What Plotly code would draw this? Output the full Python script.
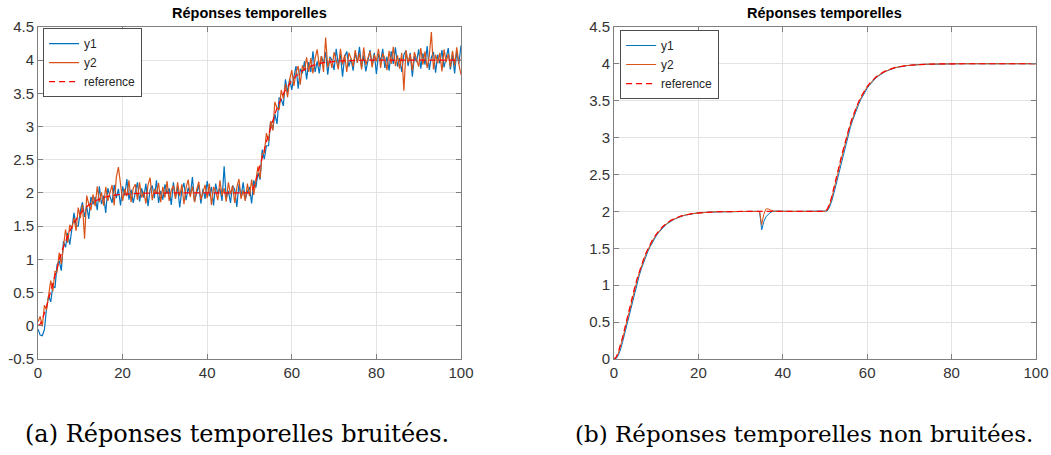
import numpy as np
import plotly.graph_objects as go

# ---------------- data ----------------
time_s = np.linspace(0, 100, 201)  # sampling grid, 0.5 s

# reference trajectory (same on both panels)
reference = [
    0.000, 0.025, 0.089, 0.180, 0.289, 0.406, 0.528, 0.651, 0.770, 0.884,
    0.993, 1.094, 1.188, 1.274, 1.353, 1.425, 1.490, 1.549, 1.602, 1.649,
    1.691, 1.728, 1.761, 1.791, 1.817, 1.840, 1.860, 1.878, 1.893, 1.907,
    1.919, 1.930, 1.939, 1.947, 1.954, 1.960, 1.965, 1.970, 1.974, 1.977,
    1.980, 1.983, 1.985, 1.987, 1.989, 1.991, 1.992, 1.993, 1.994, 1.995,
    1.996, 1.996, 1.997, 1.997, 1.998, 1.998, 1.998, 1.999, 1.999, 1.999,
    2.000,
    2.000, 2.000, 2.000, 2.000, 2.000, 2.000, 2.000, 2.000, 2.000, 2.000,
    2.000, 2.000, 2.000, 2.000, 2.000, 2.000, 2.000, 2.000, 2.000, 2.000,
    2.000, 2.000, 2.000, 2.000, 2.000, 2.000, 2.000, 2.000, 2.000, 2.000,
    2.000, 2.000, 2.000, 2.000, 2.000, 2.000, 2.000, 2.000, 2.000, 2.000,
    2.025, 2.089, 2.180, 2.289, 2.406, 2.528, 2.651, 2.770, 2.884, 2.993,
    3.094, 3.188, 3.274, 3.353, 3.425, 3.490, 3.549, 3.602, 3.649, 3.691,
    3.728, 3.761, 3.791, 3.817, 3.840, 3.860, 3.878, 3.893, 3.907, 3.919,
    3.930, 3.939, 3.947, 3.954, 3.960, 3.965, 3.970, 3.974, 3.977, 3.980,
    3.983, 3.985, 3.987, 3.989, 3.991, 3.992, 3.993, 3.994, 3.995, 3.996,
    3.996, 3.997, 3.997, 3.998, 3.998, 3.998, 3.999, 3.999, 3.999, 4.000,
    4.000, 4.000, 4.000, 4.000, 4.000, 4.000, 4.000, 4.000, 4.000, 4.000,
    4.000, 4.000, 4.000, 4.000, 4.000, 4.000, 4.000, 4.000, 4.000, 4.000,
    4.000, 4.000, 4.000, 4.000, 4.000, 4.000, 4.000, 4.000, 4.000, 4.000,
    4.000, 4.000, 4.000, 4.000, 4.000, 4.000, 4.000, 4.000, 4.000, 4.000,
]

# (a) noisy responses
y1_noisy = [
    -0.05, -0.14, -0.15, -0.06, 0.26, 0.45, 0.36, 0.60, 0.57, 0.92,
    0.98, 0.83, 1.27, 1.18, 1.40, 1.22, 1.46, 1.70, 1.50, 1.50,
    1.73, 1.86, 1.64, 1.80, 1.61, 1.94, 1.83, 1.94, 1.74, 2.10,
    1.83, 1.96, 1.70, 2.07, 1.95, 1.85, 2.12, 1.92, 2.06, 1.81,
    2.10, 1.96, 2.21, 1.90, 2.05, 1.85, 2.01, 2.16, 1.87, 2.07,
    1.93, 2.14, 1.80, 2.05, 2.11, 1.92, 2.19, 1.85, 2.03, 1.90,
    2.13, 1.99, 2.07, 1.82, 2.16, 1.93, 2.10, 1.78, 2.04, 2.15,
    1.89, 2.08, 1.96, 2.24, 1.87, 2.01, 2.12, 1.84, 2.06, 1.91,
    2.18, 1.95, 2.09, 1.81, 2.14, 1.98, 2.07, 1.88, 2.40, 1.92,
    2.03, 1.85, 2.11, 2.05, 1.79, 2.13, 1.94, 2.16, 1.90, 2.02,
    2.09, 1.84, 2.19, 2.08, 2.30, 2.20, 2.65, 2.51, 2.71, 2.71,
    3.08, 2.95, 3.19, 3.04, 3.43, 3.41, 3.31, 3.71, 3.51, 3.72,
    3.55, 3.75, 3.91, 3.57, 3.87, 3.80, 3.98, 3.71, 3.97, 3.82,
    4.13, 3.82, 3.98, 3.80, 4.06, 3.95, 4.12, 3.78, 4.05, 4.00,
    3.85, 4.17, 3.92, 4.09, 3.75, 4.05, 4.13, 3.90, 4.02, 3.84,
    4.11, 3.96, 4.20, 3.89, 4.07, 3.83, 4.01, 4.15, 3.92, 4.11,
    3.79, 4.09, 3.98, 4.17, 3.88, 4.05, 3.84, 4.13, 3.94, 4.19,
    3.90, 4.03, 3.82, 4.08, 4.14, 3.91, 4.11, 3.75, 4.06, 3.97,
    4.16, 3.87, 4.10, 3.93, 4.21, 3.85, 4.04, 4.12, 3.81, 4.08,
    3.95, 4.15, 3.89, 4.02, 4.18, 3.86, 4.09, 3.80, 4.13, 3.94,
    4.22,
]
y2_noisy = [
    0.06, 0.14, -0.01, 0.31, 0.24, 0.47, 0.68, 0.52, 0.82, 0.81,
    1.10, 0.93, 1.21, 1.45, 1.25, 1.52, 1.46, 1.62, 1.43, 1.78,
    1.62, 1.82, 1.31, 1.96, 1.83, 1.74, 1.98, 1.80, 2.10, 1.86,
    2.01, 1.81, 2.09, 1.88, 2.00, 2.12, 1.81, 2.23, 2.39, 2.09,
    1.88, 2.06, 1.95, 2.19, 1.86, 2.07, 2.13, 1.90, 2.16, 1.93,
    2.02, 1.84, 2.12, 2.23, 1.89, 2.06, 1.99, 2.15, 1.86, 2.09,
    1.93, 2.18, 1.88, 2.04, 2.11, 1.91, 2.16, 1.95, 2.13, 1.83,
    2.08, 2.20, 1.94, 2.10, 1.86, 2.05, 2.17, 1.90, 2.02, 2.12,
    1.92, 2.14, 1.82, 2.09, 2.03, 1.89, 2.19, 1.96, 2.07, 1.87,
    2.16, 1.98, 2.11, 1.85, 2.08, 2.21, 1.91, 2.04, 1.88, 2.14,
    1.95, 2.20, 1.97, 2.22, 2.40, 2.22, 2.59, 2.60, 2.90, 2.78,
    3.08, 2.94, 3.37, 3.28, 3.25, 3.55, 3.42, 3.64, 3.44, 3.71,
    3.85, 3.61, 3.81, 3.91, 3.63, 3.92, 3.84, 4.04, 3.82, 4.03,
    3.80, 4.02, 4.16, 3.90, 4.06, 3.82, 4.34, 3.89, 4.03, 3.88,
    4.12, 4.00, 3.86, 4.17, 3.93, 4.08, 3.82, 4.11, 4.03, 3.90,
    4.15, 3.96, 4.10, 3.86, 4.19, 3.93, 4.05, 4.13, 3.89, 4.08,
    3.98, 4.17, 3.88, 4.10, 4.03, 3.85, 4.14, 3.94, 4.20, 3.91,
    4.07, 3.87, 4.11, 3.54, 4.15, 3.96, 4.09, 3.84, 4.12, 4.02,
    3.90, 4.18, 3.93, 4.13, 3.88, 4.06, 4.42, 3.86, 4.08, 3.95,
    4.11, 3.83, 4.16, 3.97, 4.09, 3.89, 4.14, 3.92, 4.19, 3.94,
    3.78,
]

# (b) noise-free responses
y1_clean = [
    0.000, 0.005, 0.047, 0.120, 0.221, 0.334, 0.454, 0.578, 0.700, 0.817,
    0.930, 1.035, 1.134, 1.224, 1.308, 1.384, 1.453, 1.516, 1.572, 1.622,
    1.667, 1.707, 1.742, 1.774, 1.802, 1.827, 1.849, 1.868, 1.884, 1.899,
    1.912, 1.924, 1.934, 1.943, 1.950, 1.957, 1.962, 1.967, 1.972, 1.975,
    1.978, 1.982, 1.984, 1.986, 1.988, 1.990, 1.991, 1.992, 1.994, 1.995,
    1.995, 1.996, 1.997, 1.997, 1.997, 1.998, 1.998, 1.998, 1.999, 1.999,
    2.000,
    2.000, 2.000, 2.000, 2.000, 2.000, 2.000, 2.000, 2.000, 2.000,
    1.750, 1.860, 1.925, 1.962, 1.984, 1.997, 2.004, 2.005, 2.003, 2.001,
    2.000, 2.000, 2.000, 2.000, 2.000, 2.000, 2.000, 2.000, 2.000, 2.000,
    2.000, 2.000, 2.000, 2.000, 2.000, 2.000, 2.000, 2.000, 2.000, 2.000,
    2.000,
    2.005, 2.047, 2.120, 2.221, 2.334, 2.454, 2.578, 2.700, 2.817, 2.930,
    3.035, 3.134, 3.224, 3.308, 3.384, 3.453, 3.516, 3.572, 3.622, 3.667,
    3.707, 3.742, 3.774, 3.802, 3.827, 3.849, 3.868, 3.884, 3.899, 3.912,
    3.924, 3.934, 3.943, 3.950, 3.957, 3.962, 3.967, 3.972, 3.975, 3.978,
    3.982, 3.984, 3.986, 3.988, 3.990, 3.991, 3.992, 3.994, 3.995, 3.995,
    3.996, 3.997, 3.997, 3.997, 3.998, 3.998, 3.998, 3.999, 3.999, 4.000,
    4.000, 4.000, 4.000, 4.000, 4.000, 4.000, 4.000, 4.000, 4.000, 4.000,
    4.000, 4.000, 4.000, 4.000, 4.000, 4.000, 4.000, 4.000, 4.000, 4.000,
    4.000, 4.000, 4.000, 4.000, 4.000, 4.000, 4.000, 4.000, 4.000, 4.000,
    4.000, 4.000, 4.000, 4.000, 4.000, 4.000, 4.000, 4.000, 4.000, 4.000,
]
y2_clean = [
    0.000, 0.016, 0.073, 0.160, 0.266, 0.382, 0.503, 0.627, 0.747, 0.862,
    0.972, 1.074, 1.170, 1.257, 1.338, 1.411, 1.478, 1.538, 1.592, 1.640,
    1.683, 1.721, 1.755, 1.785, 1.812, 1.836, 1.856, 1.875, 1.890, 1.904,
    1.917, 1.928, 1.937, 1.945, 1.953, 1.959, 1.964, 1.969, 1.973, 1.976,
    1.979, 1.982, 1.985, 1.987, 1.989, 1.991, 1.992, 1.993, 1.994, 1.995,
    1.996, 1.996, 1.997, 1.997, 1.998, 1.998, 1.998, 1.999, 1.999, 1.999,
    2.000,
    2.000, 2.000, 2.000, 2.000, 2.000, 2.000, 2.000, 2.000, 2.000,
    1.820, 1.960, 2.030, 2.035, 2.020, 2.010, 2.004, 2.001, 2.000, 2.000,
    2.000, 2.000, 2.000, 2.000, 2.000, 2.000, 2.000, 2.000, 2.000, 2.000,
    2.000, 2.000, 2.000, 2.000, 2.000, 2.000, 2.000, 2.000, 2.000, 2.000,
    2.000,
    2.016, 2.073, 2.160, 2.266, 2.382, 2.503, 2.627, 2.747, 2.862, 2.972,
    3.074, 3.170, 3.257, 3.338, 3.411, 3.478, 3.538, 3.592, 3.640, 3.683,
    3.721, 3.755, 3.785, 3.812, 3.836, 3.856, 3.875, 3.890, 3.904, 3.917,
    3.928, 3.937, 3.945, 3.953, 3.959, 3.964, 3.969, 3.973, 3.976, 3.979,
    3.982, 3.985, 3.987, 3.989, 3.991, 3.992, 3.993, 3.994, 3.995, 3.996,
    3.996, 3.997, 3.997, 3.998, 3.998, 3.998, 3.999, 3.999, 3.999, 4.000,
    4.000, 4.000, 4.000, 4.000, 4.000, 4.000, 4.000, 4.000, 4.000, 4.000,
    4.000, 4.000, 4.000, 4.000, 4.000, 4.000, 4.000, 4.000, 4.000, 4.000,
    4.000, 4.000, 4.000, 4.000, 4.000, 4.000, 4.000, 4.000, 4.000, 4.000,
    4.000, 4.000, 4.000, 4.000, 4.000, 4.000, 4.000, 4.000, 4.000, 4.000,
]

series_names = ["y1", "y2", "reference"]
panel_title = "Réponses temporelles"
captions = ["(a) Réponses temporelles bruitées.", "(b) Réponses temporelles non bruitées."]
x_ticks = [0, 20, 40, 60, 80, 100]
x_ticktext = ["0", "20", "40", "60", "80", "100"]
ya_ticks = [-0.5, 0, 0.5, 1, 1.5, 2, 2.5, 3, 3.5, 4, 4.5]
ya_ticktext = ["-0.5", "0", "0.5", "1", "1.5", "2", "2.5", "3", "3.5", "4", "4.5"]
yb_ticks = [0, 0.5, 1, 1.5, 2, 2.5, 3, 3.5, 4, 4.5]
yb_ticktext = ["0", "0.5", "1", "1.5", "2", "2.5", "3", "3.5", "4", "4.5"]

for arr in (reference, y1_noisy, y2_noisy, y1_clean, y2_clean):
    assert len(arr) == len(time_s), len(arr)

# ---------------- styles ----------------
BLUE = "#0072BD"
ORANGE = "#D95319"
RED = "#FF0000"
SANS = "Liberation Sans, Arial, sans-serif"

fig = go.Figure()

panels = [
    ("x", "y", "legend", y1_noisy, y2_noisy, 1.2),
    ("x2", "y2", "legend2", y1_clean, y2_clean, 1.0),
]
for xa, ya, lg, s1, s2, lw in panels:
    fig.add_trace(go.Scatter(x=time_s, y=s1, mode="lines", name=series_names[0],
                             line=dict(color=BLUE, width=lw), xaxis=xa, yaxis=ya, legend=lg,
                             hoverinfo="skip"))
    fig.add_trace(go.Scatter(x=time_s, y=s2, mode="lines", name=series_names[1],
                             line=dict(color=ORANGE, width=lw), xaxis=xa, yaxis=ya, legend=lg,
                             hoverinfo="skip"))
    fig.add_trace(go.Scatter(x=time_s, y=reference, mode="lines", name=series_names[2],
                             line=dict(color=RED, width=1.2, dash="6px,4px"),
                             xaxis=xa, yaxis=ya, legend=lg, hoverinfo="skip"))

axis_common = dict(
    showline=True, linecolor="#7f7f7f", linewidth=1, mirror="ticks",
    ticks="inside", ticklen=5, tickcolor="#7f7f7f", automargin=False,
    showgrid=True, gridcolor="#e3e3e3", gridwidth=1, zeroline=False,
    tickfont=dict(family=SANS, size=15, color="#333333"),
)

X_DOM_A = [0.0362, 0.4386]
X_DOM_B = [0.5842, 0.9857]
Y_DOM = [0.211, 0.941]

fig.update_layout(
    width=1051, height=455,
    margin=dict(l=0, r=0, t=0, b=0, pad=0, autoexpand=False),
    paper_bgcolor="white", plot_bgcolor="white",
    hovermode=False,
    xaxis=dict(domain=X_DOM_A, range=[0, 100], tickvals=x_ticks, ticktext=x_ticktext,
               anchor="y", **axis_common),
    yaxis=dict(domain=Y_DOM, range=[-0.5, 4.5], tickvals=ya_ticks, ticktext=ya_ticktext,
               anchor="x", **axis_common),
    xaxis2=dict(domain=X_DOM_B, range=[0, 100], tickvals=x_ticks, ticktext=x_ticktext,
                anchor="y2", **axis_common),
    yaxis2=dict(domain=Y_DOM, range=[0, 4.5], tickvals=yb_ticks, ticktext=yb_ticktext,
                anchor="x2", **axis_common),
    legend=dict(x=0.041, y=0.938, xanchor="left", yanchor="top",
                bgcolor="white", bordercolor="#4d4d4d", borderwidth=1,
                font=dict(family=SANS, size=12, color="#262626"), tracegroupgap=0),
    legend2=dict(x=0.590, y=0.934, xanchor="left", yanchor="top",
                 bgcolor="white", bordercolor="#4d4d4d", borderwidth=1,
                 font=dict(family=SANS, size=12, color="#262626"), tracegroupgap=0),
    showlegend=True,
)

annotations = []
for dom in (X_DOM_A, X_DOM_B):
    annotations.append(dict(text="<b>" + panel_title + "</b>", xref="paper", yref="paper",
                            x=(dom[0] + dom[1]) / 2, y=0.971, xanchor="center", yanchor="middle",
                            showarrow=False, font=dict(family=SANS, size=14.5, color="#000000")))
annotations.append(dict(text=captions[0], xref="paper", yref="paper", x=23 / 1051, y=0.046,
                        xanchor="left", yanchor="middle", showarrow=False,
                        font=dict(family="DejaVu Serif, serif", size=24, color="#000000")))
annotations.append(dict(text=captions[1], xref="paper", yref="paper", x=573 / 1051, y=0.046,
                        xanchor="left", yanchor="middle", showarrow=False,
                        font=dict(family="DejaVu Serif, serif", size=23, color="#000000")))
fig.update_layout(annotations=annotations)

fig.write_html(
    "out.html",
    config={"displayModeBar": False, "staticPlot": True},
    post_script="document.body.style.margin='0';document.body.style.padding='0';",
)
